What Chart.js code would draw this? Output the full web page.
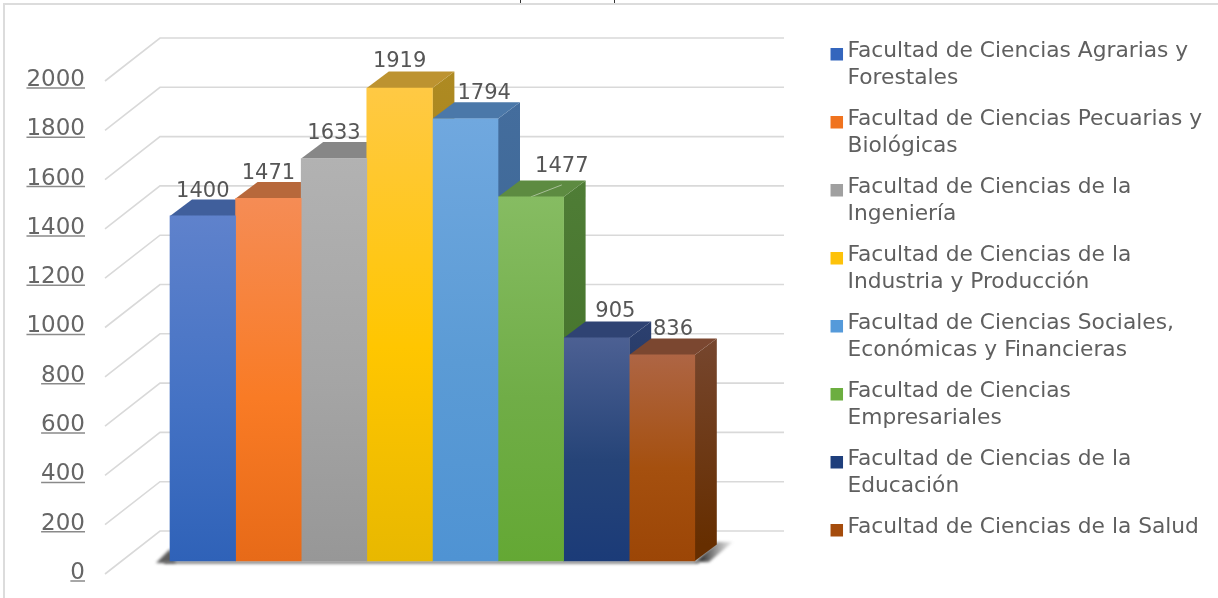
<!DOCTYPE html>
<html lang="es">
<head>
<meta charset="utf-8">
<title>Facultades</title>
<script src="https://cdn.jsdelivr.net/npm/chart.js@4/dist/chart.umd.min.js"></script>
<style>
  html, body { margin: 0; padding: 0; background: #fff; overflow: hidden; }
  #frame { position: absolute; left: 3px; top: 3px; right: 0; bottom: 0; border-left: 2px solid #dcdcdc; border-top: 2px solid #dcdcdc; }
  .mark { position: absolute; top: 0; width: 1px; height: 3px; background: #333; }
  canvas { position: absolute; left: 0; top: 0; display: block; }
</style>
</head>
<body>
<div id="frame"></div>
<div class="mark" style="left:520px"></div>
<div class="mark" style="left:614px"></div>
<canvas id="chart" width="1218" height="598"></canvas>
<script>
const facultades = [
    ['Facultad de Ciencias Agrarias y', 'Forestales'],
    ['Facultad de Ciencias Pecuarias y', 'Biológicas'],
    ['Facultad de Ciencias de la', 'Ingeniería'],
    ['Facultad de Ciencias de la', 'Industria y Producción'],
    ['Facultad de Ciencias Sociales,', 'Económicas y Financieras'],
    ['Facultad de Ciencias', 'Empresariales'],
    ['Facultad de Ciencias de la', 'Educación'],
    ['Facultad de Ciencias de la Salud']
];
const estudiantes = [1400, 1471, 1633, 1919, 1794, 1477, 905, 836];
const yTicks = [0, 200, 400, 600, 800, 1000, 1200, 1400, 1600, 1800, 2000];

// colores de cada cara: frente (arriba, medio, abajo), tapa, lateral (arriba, abajo)
const frontTop = ['#5f82cc', '#f58c55', '#b2b2b2', '#ffc944', '#70a8df', '#86bc62', '#4c6093', '#ae6544'];
const frontMid = ['#4472c4', '#f97b25', '#a5a5a5', '#ffc600', '#5b9bd5', '#70ad47', '#264478', '#a5500f'];
const frontBottom = ['#2f62b8', '#e76a18', '#979797', '#e8b800', '#4f93d3', '#64a834', '#1b3b78', '#9c4606'];
const topFace = ['#405f9c', '#b7683b', '#878787', '#bd9330', '#4b78a9', '#5d8b41', '#2f4373', '#7b4730'];
const sideTop = ['#35558f', '#a85a2c', '#7c7c7c', '#ae8a22', '#446d9d', '#4f7d36', '#2c406f', '#76462e'];
const sideBottom = ['#24457f', '#9a4d12', '#6c6c6c', '#9a7a10', '#35628f', '#3f6e25', '#14284f', '#662e00'];
const legendColors = ['#3466bd', '#f0731f', '#a0a0a0', '#fdc20a', '#559ada', '#6cae40', '#1f3f7c', '#a54c0c'];

// ajuste del rótulo respecto al centro de la barra
const labelShiftX = [0, 0, 0, 0, 19, 31, 19, 11];
const labelRiseY = [24, 25, 25, 26, 25, 30, 26, 25];

const depthX = 22, depthY = 16.5;   // fondo de cada barra
const wallX = 55, wallY = 43;       // fondo de la pared
const wallRight = 784;
const barsLeft = 170, barWidth = 65.6, barsDrop = -12;
const lineDrop = 1;                 // la rejilla queda un poco bajo el centro del rótulo

function polygon(ctx, pts, fill) {
    ctx.beginPath();
    pts.forEach((p, i) => i ? ctx.lineTo(p[0], p[1]) : ctx.moveTo(p[0], p[1]));
    ctx.closePath();
    ctx.fillStyle = fill;
    ctx.fill();
}

function barOffset(chart) {
    const first = chart.getDatasetMeta(0).data[0];
    return barsLeft - (first.x - first.width / 2);
}

const bars3d = {
    id: 'bars3d',
    beforeDatasetsDraw(chart) {
        const ctx = chart.ctx, y = chart.scales.y, left = chart.chartArea.left;

        // rejilla: línea oblicua en el suelo y línea horizontal en la pared
        ctx.save();
        ctx.strokeStyle = '#d9d9d9';
        ctx.lineWidth = 1.6;
        y.ticks.forEach(t => {
            const py = y.getPixelForValue(t.value) + lineDrop;
            ctx.beginPath();
            ctx.moveTo(left, py);
            ctx.lineTo(left + wallX, py - wallY);
            ctx.lineTo(wallRight, py - wallY);
            ctx.stroke();
        });
        ctx.restore();

        const ox = barOffset(chart);
        ctx.save();
        ctx.translate(ox, barsDrop);

        // sombra en la base
        const metas = estudiantes.map((v, i) => chart.getDatasetMeta(i).data[0]);
        const base = y.getPixelForValue(0);
        const x0 = metas[0].x - metas[0].width / 2;
        const last = metas[metas.length - 1];
        const x1 = last.x + last.width / 2;
        const fade = ctx.createLinearGradient(x1 + 8, 0, x1 + 38, 0);
        fade.addColorStop(0, '#404040');
        fade.addColorStop(1, 'rgba(120,120,120,0.15)');
        ctx.save();
        ctx.filter = 'blur(1.5px)';
        polygon(ctx, [[x0 - 14, base + 2], [x0, base - 12], [x0 + 6, base + 2]], '#5c5c5c');
        polygon(ctx, [[x1, base + 1], [x1 + depthX, base - 19], [x1 + 38, base - 19], [x1 + 14, base + 1]], fade);
        ctx.fillStyle = '#6a6a6a';
        ctx.fillRect(x0 - 6, base, x1 - x0 + 10, 2.5);
        ctx.restore();

        // laterales y tapas, de izquierda a derecha
        metas.forEach((bar, i) => {
            const l = bar.x - bar.width / 2, r = bar.x + bar.width / 2, top = bar.y;
            const side = ctx.createLinearGradient(0, top - depthY, 0, base - depthY);
            side.addColorStop(0, sideTop[i]);
            side.addColorStop(1, sideBottom[i]);
            polygon(ctx, [[r, top], [r + depthX, top - depthY], [r + depthX, base - depthY], [r, base]], side);
            polygon(ctx, [[l, top], [l + depthX, top - depthY], [r + depthX, top - depthY], [r, top]], topFace[i]);
        });

        // línea clara que cruza la tapa verde
        const verde = metas[5];
        ctx.strokeStyle = '#a8bf98';
        ctx.lineWidth = 1;
        ctx.beginPath();
        ctx.moveTo(verde.x, verde.y);
        ctx.lineTo(verde.x + 31, verde.y - 12);
        ctx.stroke();
        // queda abierto: las caras frontales se pintan con este mismo desplazamiento
    },
    afterDatasetsDraw(chart) {
        const ctx = chart.ctx, y = chart.scales.y;
        ctx.restore();

        // rótulos de valor
        const ox = barOffset(chart);
        ctx.save();
        ctx.font = '21px "DejaVu Sans"';
        ctx.fillStyle = '#565656';
        ctx.textAlign = 'center';
        ctx.textBaseline = 'middle';
        estudiantes.forEach((v, i) => {
            const bar = chart.getDatasetMeta(i).data[0];
            ctx.fillText(String(v), bar.x + ox + labelShiftX[i], bar.y + barsDrop - labelRiseY[i]);
        });

        // subrayado de los rótulos del eje
        const labelRight = chart.chartArea.left - y.options.ticks.padding;
        ctx.font = Chart.helpers.toFont(y.options.ticks.font).string;
        ctx.strokeStyle = '#8a8a8a';
        ctx.lineWidth = 1.5;
        y.ticks.forEach(t => {
            const py = y.getPixelForValue(t.value) + 8;
            ctx.beginPath();
            ctx.moveTo(labelRight - ctx.measureText(t.label).width, py);
            ctx.lineTo(labelRight, py);
            ctx.stroke();
        });

        // cuadros de la leyenda, algo más bajos que el texto
        chart.legend.legendHitBoxes.forEach((box, i) => {
            ctx.fillStyle = legendColors[i];
            ctx.fillRect(box.left, box.top + 8, 12.5, 12.5);
        });
        ctx.restore();
    }
};

function frontFill(i) {
    return (context) => {
        const chart = context.chart;
        if (!chart.chartArea) return frontMid[i];
        const y = chart.scales.y;
        const g = chart.ctx.createLinearGradient(0, y.getPixelForValue(estudiantes[i]), 0, y.getPixelForValue(0));
        g.addColorStop(0, frontTop[i]);
        g.addColorStop(0.55, frontMid[i]);
        g.addColorStop(1, frontBottom[i]);
        return g;
    };
}

new Chart(document.getElementById('chart'), {
    type: 'bar',
    data: {
        labels: ['Estudiantes'],
        datasets: facultades.map((name, i) => ({
            label: name,
            data: [estudiantes[i]],
            backgroundColor: frontFill(i),
            borderWidth: 0,
            barThickness: barWidth,
            clip: false
        }))
    },
    options: {
        responsive: false,
        animation: false,
        layout: { padding: { top: 26, bottom: 25, right: 6 } },
        plugins: {
            tooltip: { enabled: false },
            legend: {
                position: 'right',
                align: 'start',
                maxWidth: 420,
                labels: {
                    boxWidth: 6.1,
                    boxHeight: 0,
                    padding: 14,
                    color: '#5f5f5f',
                    font: { family: '"DejaVu Sans"', size: 21.75, lineHeight: '27px' },
                    generateLabels(chart) {
                        return Chart.defaults.plugins.legend.labels.generateLabels(chart).map(item => ({
                            ...item, fillStyle: 'rgba(0,0,0,0)', strokeStyle: 'rgba(0,0,0,0)', lineWidth: 0
                        }));
                    }
                }
            }
        },
        scales: {
            x: {
                position: 'top',
                ticks: { display: false },
                grid: { display: false },
                border: { display: false },
                afterFit(scale) { scale.height = 54; }
            },
            y: {
                min: 0,
                max: 2000,
                afterBuildTicks(scale) { scale.ticks = yTicks.map(value => ({ value })); },
                ticks: {
                    padding: 20,
                    color: '#666666',
                    font: { family: '"DejaVu Sans"', size: 23 },
                    callback: value => String(value)
                },
                grid: { display: false, drawTicks: false },
                border: { display: false },
                afterFit(scale) {
                    scale.width = 105;
                    scale.paddingTop = 0;
                    scale.paddingBottom = 0;
                }
            }
        }
    },
    plugins: [bars3d]
});
</script>
</body>
</html>
